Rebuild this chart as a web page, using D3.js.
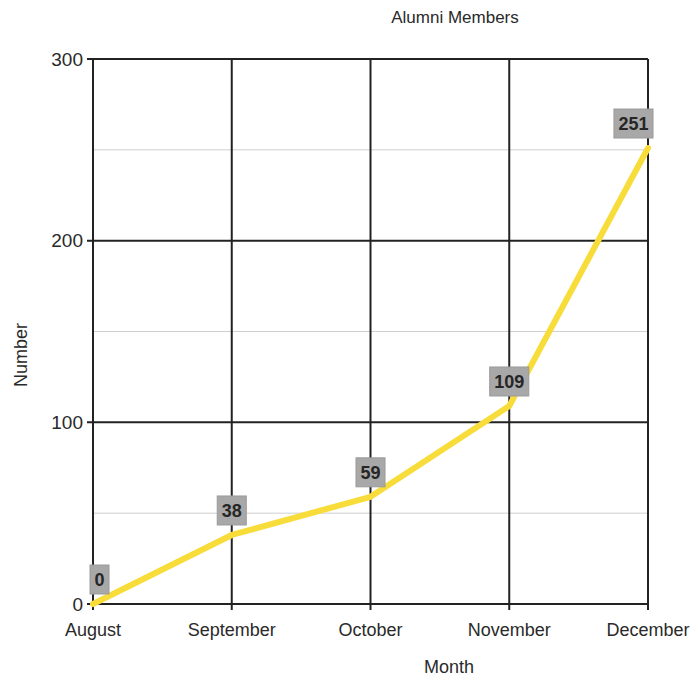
<!DOCTYPE html>
<html><head><meta charset="utf-8">
<script src="https://cdn.jsdelivr.net/npm/d3@7"></script>
<style>body{margin:0;background:#fff}svg{display:block}text{font-family:"Liberation Sans",Arial,sans-serif}</style>
</head><body>
<script>
const months = ["August","September","October","November","December"];
const members = [0,38,59,109,251];
const yTicks = [0,100,200,300];
const yMinor = [50,150,250];
const title = "Alumni Members";
const xTitle = "Month";
const yTitle = "Number";

(function(){
const W=697,H=678;
const pL=93,pR=648,pT=59,pB=604;
const svg=d3.select("body").append("svg").attr("width",W).attr("height",H);
const x=d3.scalePoint().domain(months).range([pL,pR]);
const y=d3.scaleLinear().domain([0,300]).range([pB,pT]);

svg.append("g").selectAll("line").data(yMinor).join("line")
 .attr("x1",pL).attr("x2",pR).attr("y1",d=>y(d)).attr("y2",d=>y(d))
 .attr("stroke","#cfcfcf").attr("stroke-width",1);
svg.append("g").selectAll("line").data(yTicks).join("line")
 .attr("x1",pL-6).attr("x2",pR).attr("y1",d=>y(d)).attr("y2",d=>y(d))
 .attr("stroke","#222").attr("stroke-width",2);
svg.append("g").selectAll("line").data(months).join("line")
 .attr("x1",d=>x(d)).attr("x2",d=>x(d)).attr("y1",pT).attr("y2",pB+6)
 .attr("stroke","#222").attr("stroke-width",2);

svg.append("g").selectAll("text").data(yTicks).join("text")
 .attr("x",pL-10).attr("y",d=>y(d)).attr("dy","0.35em").attr("text-anchor","end")
 .attr("font-size",19).attr("fill","#2a2a2a").text(d=>d);
svg.append("g").selectAll("text").data(months).join("text")
 .attr("x",d=>x(d)).attr("y",pB+32).attr("text-anchor","middle")
 .attr("font-size",18).attr("fill","#2a2a2a").text(d=>d);

svg.append("text").attr("x",455).attr("y",23).attr("text-anchor","middle")
 .attr("font-size",17).attr("fill","#2a2a2a").text(title);
svg.append("text").attr("x",449).attr("y",673).attr("text-anchor","middle")
 .attr("font-size",18).attr("fill","#2a2a2a").text(xTitle);
svg.append("text").attr("transform","translate(27,355) rotate(-90)").attr("text-anchor","middle")
 .attr("font-size",18).attr("fill","#2a2a2a").text(yTitle);

const line=d3.line().x((d,i)=>x(months[i])).y(d=>y(d)).curve(d3.curveLinear);
svg.append("path").datum(members).attr("d",line).attr("fill","none")
 .attr("stroke","#f7dc3a").attr("stroke-width",6).attr("stroke-linejoin","round").attr("stroke-linecap","round");

const lg=svg.append("g");
members.forEach((v,i)=>{
  const px=x(months[i]), py=y(v);
  const t=lg.append("text").attr("font-size",18).attr("font-weight","bold").attr("fill","#262626")
    .attr("text-anchor","middle").text(v);
  const bw=t.node().getComputedTextLength()+9, bh=29;
  let cx=px;
  cx=Math.max(pL-3+bw/2,Math.min(pR+5-bw/2,cx));
  const by=py-10-bh;
  lg.insert("rect","text").attr("x",cx-bw/2).attr("y",by).attr("width",bw).attr("height",bh)
    .attr("fill","#a8a8a8").attr("stroke","#9a9a9a");
  t.attr("x",cx).attr("y",by+bh/2).attr("dy","0.36em");
});
})();
</script>
</body></html>
